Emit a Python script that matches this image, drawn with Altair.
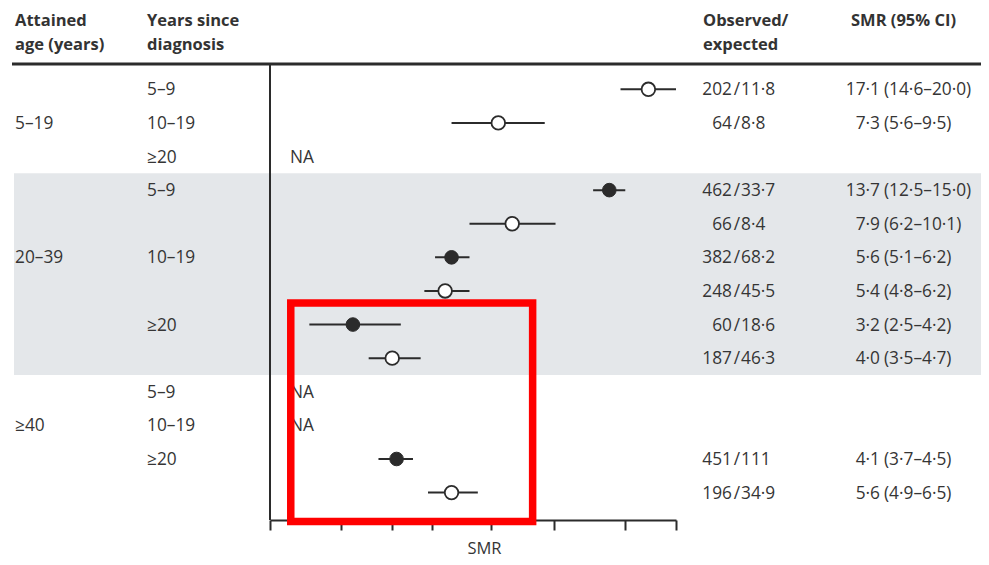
import altair as alt
import pandas as pd

# ---------------- data ----------------
row_index = [1, 2, 3, 4, 5, 6, 7, 8, 9, 10, 11, 12, 13]
smr = [17.1, 7.3, None, 13.7, 7.9, 5.6, 5.4, 3.2, 4.0, None, None, 4.1, 5.6]
ci_low = [14.6, 5.6, None, 12.5, 6.2, 5.1, 4.8, 2.5, 3.5, None, None, 3.7, 4.9]
ci_high = [20.0, 9.5, None, 15.0, 10.1, 6.2, 6.2, 4.2, 4.7, None, None, 4.5, 6.5]
filled_marker = [False, False, None, True, False, True, False, True, False, None, None, True, False]
observed = ["202", "64", "", "462", "66", "382", "248", "60", "187", "", "", "451", "196"]
expected = ["11·8", "8·8", "", "33·7", "8·4", "68·2", "45·5", "18·6", "46·3", "", "", "111", "34·9"]

age_labels = ["5–19", "20–39", "≥40"]
age_label_rows = [2, 6, 11]
years_labels = ["5–9", "10–19", "≥20", "5–9", "10–19", "≥20", "5–9", "10–19", "≥20"]
years_label_rows = [1, 2, 3, 4, 6, 8, 10, 11, 12]
na_rows = [3, 10, 11]
shaded_rows = [3.5, 9.5]
axis_ticks = [2, 3, 4, 5, 7, 10, 15, 20]
highlight_smr = [2.25, 8.87]
highlight_rows = [7.36, 13.86]

# ---------------- tables ----------------
def fmt(v):
    return f"{v:.1f}".replace(".", "·")

pts = pd.DataFrame({
    "row": row_index, "smr": smr, "lo": ci_low, "hi": ci_high,
    "filled": filled_marker, "obs": observed, "exp": expected,
}).dropna(subset=["smr"])
pts["smr_txt"] = pts["smr"].map(fmt)
pts["ci_txt"] = [f"({fmt(a)}–{fmt(b)})" for a, b in zip(pts["lo"], pts["hi"])]
pts["exp_txt"] = pts["exp"]

age_df = pd.DataFrame({"row": age_label_rows, "label": age_labels})
years_df = pd.DataFrame({"row": years_label_rows, "label": years_labels})
na_df = pd.DataFrame({"row": na_rows, "label": ["NA"] * len(na_rows)})
band_df = pd.DataFrame({"y0": [shaded_rows[0]], "y1": [shaded_rows[1]]})
box_df = pd.DataFrame({"x0": [highlight_smr[0]], "x1": [highlight_smr[1]],
                       "y0": [highlight_rows[0]], "y1": [highlight_rows[1]]})

# ---------------- styling ----------------
FONT = "Open Sans"
TXT = "#353535"
DARK = "#2b2b2b"
FS = 17.3

xaxis = alt.Axis(values=axis_ticks, labels=False, ticks=True, tickSize=10, tickWidth=2,
                 tickColor=DARK, domainColor=DARK, domainWidth=2, grid=False,
                 title="SMR", titleFont=FONT, titleFontSize=16.5, titleFontWeight="normal",
                 titleColor=TXT, titleX=476, titleY=28, titleBaseline="middle",
                 titleAlign="center", titleAnchor="start")
xscale = alt.Scale(type="log", domain=[2, 20], range=[262, 668], nice=False)
yscale = alt.Scale(domain=[1, 13], range=[81.3, 484.6], nice=False, zero=False)


def X(field):
    return alt.X(field, type="quantitative", scale=xscale, axis=xaxis)


def Y(field):
    return alt.Y(field, type="quantitative", scale=yscale, axis=None)


band = alt.Chart(band_df).mark_rect(color="#e4e7ea").encode(
    x=alt.value(6), x2=alt.value(977), y=Y("y0"), y2="y1")

header_rule = alt.Chart(band_df).mark_rule(color=DARK, strokeWidth=3).encode(
    x=alt.value(4), x2=alt.value(977), y=alt.value(56))

vline = alt.Chart(band_df).mark_rule(color=DARK, strokeWidth=2).encode(
    x=alt.value(262), y=alt.value(57), y2=alt.value(512))

ci = alt.Chart(pts).mark_rule(color=DARK, strokeWidth=2).encode(
    x=X("lo"), x2="hi", y=Y("row"))

open_pts = alt.Chart(pts[pts["filled"] == False]).mark_point(
    shape="circle", size=185, filled=True, fill="white", stroke=DARK, strokeWidth=1.8,
    opacity=1).encode(x=X("smr"), y=Y("row"))
solid_pts = alt.Chart(pts[pts["filled"] == True]).mark_point(
    shape="circle", size=185, filled=True, fill=DARK, stroke=DARK, strokeWidth=1.0,
    opacity=1).encode(x=X("smr"), y=Y("row"))


def row_text(df, field, xpix, align="left", weight="normal"):
    return alt.Chart(df).mark_text(
        font=FONT, fontSize=FS, color=TXT, align=align, baseline="middle", dy=1,
        fontWeight=weight).encode(x=alt.value(xpix), y=Y("row"), text=field)


age_txt = row_text(age_df, "label:N", 7)
years_txt = row_text(years_df, "label:N", 139)
na_txt = row_text(na_df, "label:N", 282)
obs_txt = row_text(pts, "obs:N", 724, align="right")
slash_txt = alt.Chart(pts).mark_text(
    font=FONT, fontSize=FS, color=TXT, align="center", baseline="middle", dy=1,
    text="/").encode(x=alt.value(729), y=Y("row"))
exp_txt = row_text(pts, "exp_txt:N", 733)
smr_txt = row_text(pts, "smr_txt:N", 872, align="right")
ci_txt = row_text(pts, "ci_txt:N", 876)


def header(text, xpix, ypix):
    return alt.Chart(band_df).mark_text(
        font=FONT, fontSize=16.5, fontWeight="bold", color="#333333", align="left",
        baseline="alphabetic", text=text).encode(x=alt.value(xpix), y=alt.value(ypix))


headers = [
    header("Attained", 7, 17.8), header("age (years)", 7, 42),
    header("Years since", 139, 17.8), header("diagnosis", 139, 42),
    header("Observed/", 695, 17.8), header("expected", 695, 42),
    header("SMR (95% CI)", 843, 17.8),
]

box = alt.Chart(box_df).mark_rect(fillOpacity=0, stroke="#ff0000", strokeWidth=7.5).encode(
    x=X("x0"), x2="x1", y=Y("y0"), y2="y1")

chart = alt.layer(
    band, header_rule, vline, ci, open_pts, solid_pts,
    age_txt, years_txt, na_txt, obs_txt, slash_txt, exp_txt, smr_txt, ci_txt,
    *headers, box,
).properties(
    width=973, height=512,
    background="white",
    autosize=alt.AutoSizeParams(type="none"),
    padding={"left": 0, "top": 0, "right": 0, "bottom": 37},
).configure_view(stroke=None)

chart.save("out.html", embed_options={"renderer": "svg", "actions": False})
